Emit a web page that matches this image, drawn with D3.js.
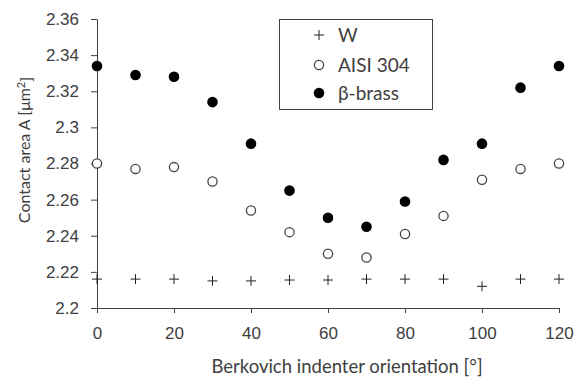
<!DOCTYPE html>
<html>
<head>
<meta charset="utf-8">
<script src="https://cdn.jsdelivr.net/npm/d3@7"></script>
<style>
  body { margin: 0; background: #fff; }
  svg { display: block; font-family: Lato, "Open Sans", sans-serif; }
  .tick text { fill: #404040; font-size: 17px; }
  .domain, .tick line { stroke: #404040; }
</style>
</head>
<body>
<div id="chart"></div>
<script>
// 数据
const angles = [0, 10, 20, 30, 40, 50, 60, 70, 80, 90, 100, 110, 120];
const areaW = [2.216, 2.216, 2.216, 2.215, 2.215, 2.2155, 2.2155, 2.216, 2.216, 2.216, 2.212, 2.216, 2.216];
const areaAisi = [2.280, 2.277, 2.278, 2.270, 2.254, 2.242, 2.230, 2.228, 2.241, 2.251, 2.271, 2.277, 2.280];
const areaBrass = [2.334, 2.329, 2.328, 2.314, 2.291, 2.265, 2.250, 2.245, 2.259, 2.282, 2.291, 2.322, 2.334];
const xTicks = [0, 20, 40, 60, 80, 100, 120];
const yTicks = [2.2, 2.22, 2.24, 2.26, 2.28, 2.3, 2.32, 2.34, 2.36];
const legendNames = ['W', 'AISI 304', 'β-brass'];

const width = 584, height = 381;
const svg = d3.select('#chart').append('svg')
    .attr('width', width)
    .attr('height', height);

const x = d3.scaleLinear().domain([0, 120]).range([97, 559]);
const y = d3.scaleLinear().domain([2.2, 2.36]).range([308, 19]);

// 坐标轴
svg.append('g')
    .attr('transform', `translate(0,${y(2.2)})`)
    .call(d3.axisBottom(x).tickValues(xTicks).tickSize(5).tickPadding(14).tickSizeOuter(0));

svg.append('g')
    .attr('transform', `translate(${x(0)},0)`)
    .call(d3.axisLeft(y).tickValues(yTicks).tickSize(6).tickPadding(12).tickSizeOuter(0)
        .tickFormat(d => String(+d.toFixed(2))));

// 轴标题
svg.append('text')
    .attr('x', 347)
    .attr('y', 373)
    .attr('text-anchor', 'middle')
    .attr('fill', '#404040')
    .attr('font-size', '18.5px')
    .text('Berkovich indenter orientation [°]');

const yt = svg.append('text')
    .attr('transform', `translate(30,150) rotate(-90)`)
    .attr('text-anchor', 'middle')
    .attr('fill', '#404040')
    .attr('font-size', '16px');
yt.append('tspan').text('Contact area A [μm');
yt.append('tspan').attr('dy', '-0.45em').attr('font-size', '11px').text('2');
yt.append('tspan').attr('dy', '0.45em').text(']');

// 标记
function drawPlus(g, cx, cy) {
    g.append('path')
        .attr('d', `M${cx - 5},${cy}H${cx + 5}M${cx},${cy - 5}V${cy + 5}`)
        .attr('stroke', '#222')
        .attr('stroke-width', 1);
}
function drawOpen(g, cx, cy) {
    g.append('circle').attr('cx', cx).attr('cy', cy).attr('r', 4.6)
        .attr('fill', '#fff').attr('stroke', '#444').attr('stroke-width', 1.3);
}
function drawFilled(g, cx, cy) {
    g.append('circle').attr('cx', cx).attr('cy', cy).attr('r', 5.3)
        .attr('fill', '#000');
}
const drawers = [drawPlus, drawOpen, drawFilled];
const seriesList = [areaW, areaAisi, areaBrass];

const marks = svg.append('g');
seriesList.forEach((vals, s) => {
    vals.forEach((v, i) => drawers[s](marks, x(angles[i]), y(v)));
});

// 图例
const legend = svg.append('g');
legend.append('rect')
    .attr('x', 279.5).attr('y', 19.5)
    .attr('width', 153).attr('height', 90)
    .attr('fill', '#fff').attr('stroke', '#404040').attr('stroke-width', 1);
const rowY = [35, 65, 93];
legendNames.forEach((name, i) => {
    drawers[i](legend, 319, rowY[i]);
    legend.append('text')
        .attr('x', 338).attr('y', rowY[i])
        .attr('dy', '0.35em')
        .attr('fill', '#404040')
        .attr('font-size', '19px')
        .text(name);
});
</script>
</body>
</html>
